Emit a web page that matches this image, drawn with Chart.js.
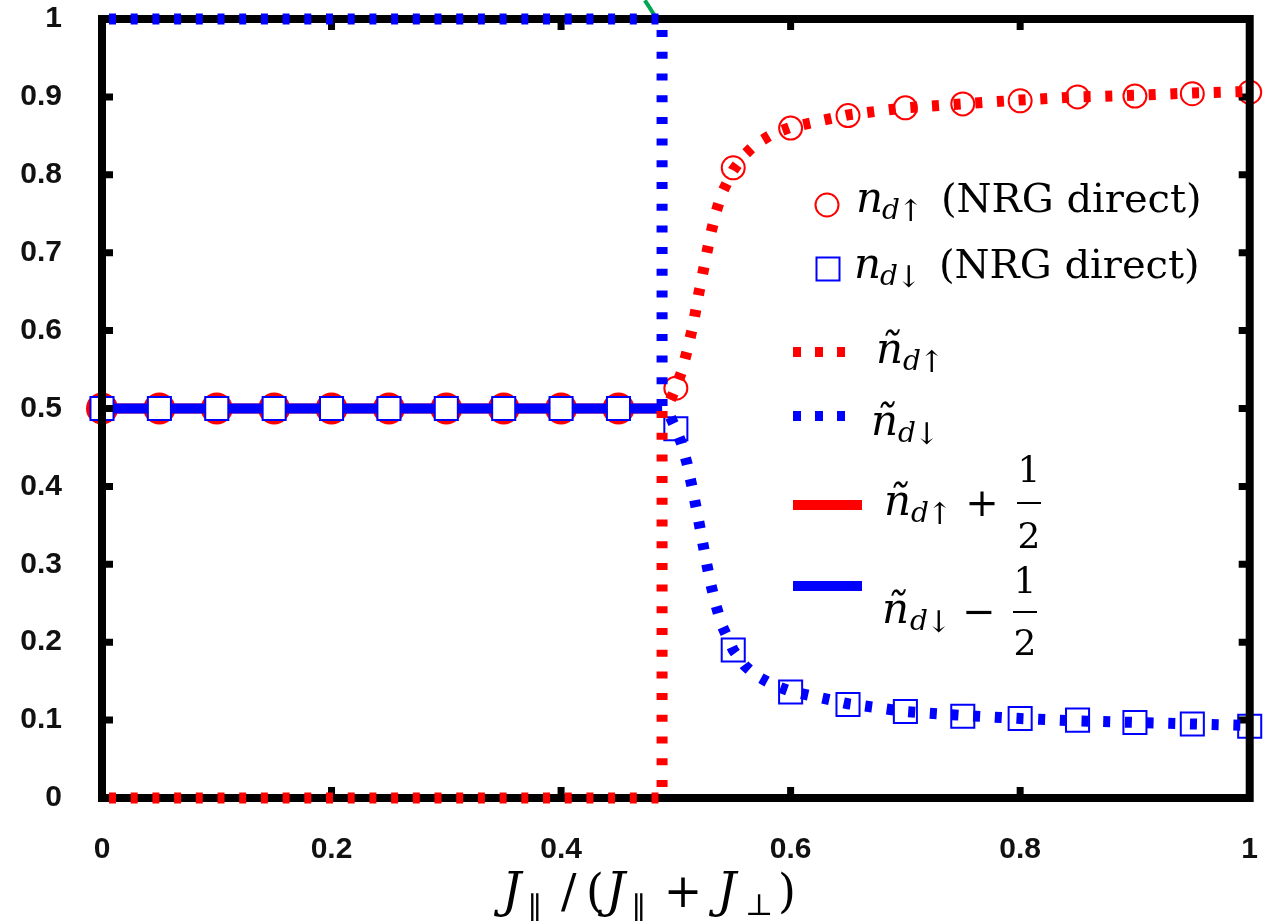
<!DOCTYPE html>
<html>
<head>
<meta charset="utf-8">
<script src="https://cdn.jsdelivr.net/npm/chart.js@4.4.1/dist/chart.umd.min.js"></script>
<style>
  html, body { margin: 0; padding: 0; background: #fff; overflow: hidden; }
  #wrap { width: 1263px; height: 924px; overflow: hidden; }
</style>
</head>
<body>
<!-- canvas is a few px wider than the window: Chart.js keeps ~18px on the right -->
<div id="wrap"><canvas id="chart" width="1268" height="924"></canvas></div>
<script>
// NRG direct points
const nrgX = [0, 0.05, 0.1, 0.15, 0.2, 0.25, 0.3, 0.35, 0.4, 0.45, 0.5, 0.55, 0.6, 0.65, 0.7, 0.75, 0.8, 0.85, 0.9, 0.95, 1];
const nUp = [0.5, 0.5, 0.5, 0.5, 0.5, 0.5, 0.5, 0.5, 0.5, 0.5, 0.526, 0.809, 0.86, 0.876, 0.886, 0.891, 0.895, 0.9, 0.901, 0.904, 0.906];
const nDown = [0.5, 0.5, 0.5, 0.5, 0.5, 0.5, 0.5, 0.5, 0.5, 0.5, 0.474, 0.19, 0.136, 0.12, 0.111, 0.105, 0.102, 0.1, 0.097, 0.095, 0.092];

// tilde n curves (dotted)
const tildeX = [0, 0.488, 0.488, 0.495, 0.5, 0.505, 0.51, 0.515, 0.52, 0.525, 0.53, 0.535, 0.54, 0.55, 0.56, 0.57, 0.585, 0.6, 0.65, 0.7, 0.75, 0.8, 0.85, 0.9, 0.95, 1];
const tildeUp = [0, 0, 0.5, 0.51, 0.527, 0.547, 0.575, 0.607, 0.648, 0.685, 0.722, 0.752, 0.776, 0.806, 0.826, 0.84, 0.853, 0.861, 0.877, 0.886, 0.891, 0.896, 0.9, 0.902, 0.905, 0.907];
const tildeDown = [1, 1, 0.5, 0.49, 0.474, 0.455, 0.428, 0.393, 0.355, 0.315, 0.277, 0.247, 0.222, 0.19, 0.17, 0.157, 0.145, 0.137, 0.121, 0.111, 0.106, 0.102, 0.099, 0.097, 0.095, 0.093];

// tilde n +/- 1/2 (solid)
const halfX = [0, 0.488];
const halfUp = [0.5, 0.5];
const halfDown = [0.5, 0.5];

// stray green arrow tip at the top edge
const arrowX = [0.473, 0.4835];
const arrowY = [1.024, 1.0];

const xTickLabels = ['0', '0.2', '0.4', '0.6', '0.8', '1'];
const yTickLabels = ['0', '0.1', '0.2', '0.3', '0.4', '0.5', '0.6', '0.7', '0.8', '0.9', '1'];

const RED = '#ff0000';
const BLUE = '#0000ff';

function pts(xs, ys) {
    return xs.map((x, i) => ({ x: x, y: ys[i] }));
}

const isLeft = c => c.raw && c.raw.x < 0.49;

const serif = '"DejaVu Serif", "DejaVu Sans", serif';
function put(ctx, s, x, y, size, style, align) {
    ctx.font = (style || 'normal') + ' ' + size + 'px ' + serif;
    ctx.textAlign = align || 'left';
    ctx.textBaseline = 'alphabetic';
    ctx.fillStyle = '#000';
    ctx.fillText(s, x, y);
}

// frame + inward ticks, drawn between the marker layers and the dotted lines
const framePlugin = {
    id: 'frame',
    afterDatasetDraw(chart, args) {
        if (args.index !== 2) return;
        const ctx = chart.ctx;
        const a = chart.chartArea;
        const xs = chart.scales.x, ys = chart.scales.y;
        ctx.save();
        ctx.strokeStyle = '#000';
        ctx.lineWidth = 8;
        ctx.lineJoin = 'miter';
        ctx.strokeRect(a.left, a.top, a.right - a.left, a.bottom - a.top);
        ctx.lineWidth = 7;
        ctx.beginPath();
        ys.ticks.forEach(t => {
            if (t.value <= 0 || t.value >= 1) return;
            const py = ys.getPixelForValue(t.value);
            ctx.moveTo(a.left, py); ctx.lineTo(a.left + 11, py);
            ctx.moveTo(a.right, py); ctx.lineTo(a.right - 11, py);
        });
        xs.ticks.forEach(t => {
            if (t.value <= 0 || t.value >= 1) return;
            const px = xs.getPixelForValue(t.value);
            ctx.moveTo(px, a.bottom); ctx.lineTo(px, a.bottom - 11);
            ctx.moveTo(px, a.top); ctx.lineTo(px, a.top + 11);
        });
        ctx.stroke();
        ctx.restore();
    }
};

// legend and axis title with sub/superscripts
const textPlugin = {
    id: 'mathText',
    afterDraw(chart) {
        const ctx = chart.ctx;
        ctx.save();

        // line 1: red circle
        ctx.lineWidth = 2;
        ctx.strokeStyle = RED;
        ctx.beginPath();
        ctx.arc(827, 205, 11.5, 0, Math.PI * 2);
        ctx.stroke();
        put(ctx, 'n', 856, 212, 42, 'italic');
        put(ctx, 'd', 882, 219, 28, 'italic');
        put(ctx, '\u2191', 898, 221, 30);
        put(ctx, '(NRG direct)', 941, 212, 40);

        // line 2: blue square
        ctx.strokeStyle = BLUE;
        ctx.strokeRect(816.5, 257.5, 23, 23);
        put(ctx, 'n', 854, 278, 42, 'italic');
        put(ctx, 'd', 880, 285, 28, 'italic');
        put(ctx, '\u2193', 896, 287, 30);
        put(ctx, '(NRG direct)', 939, 278, 40);

        // lines 3, 4: dotted
        ctx.lineWidth = 10;
        ctx.setLineDash([8, 14]);
        ctx.strokeStyle = RED;
        ctx.beginPath(); ctx.moveTo(793, 352); ctx.lineTo(847, 352); ctx.stroke();
        ctx.strokeStyle = BLUE;
        ctx.beginPath(); ctx.moveTo(793, 416); ctx.lineTo(847, 416); ctx.stroke();
        ctx.setLineDash([]);
        put(ctx, '\u00f1', 876, 363, 42, 'italic');
        put(ctx, 'd', 903, 370, 28, 'italic');
        put(ctx, '\u2191', 919, 372, 30);
        put(ctx, '\u00f1', 871, 435, 42, 'italic');
        put(ctx, 'd', 898, 442, 28, 'italic');
        put(ctx, '\u2193', 914, 444, 30);

        // lines 5, 6: solid
        ctx.lineWidth = 10;
        ctx.strokeStyle = RED;
        ctx.beginPath(); ctx.moveTo(793, 505); ctx.lineTo(862, 505); ctx.stroke();
        ctx.strokeStyle = BLUE;
        ctx.beginPath(); ctx.moveTo(793, 586); ctx.lineTo(862, 586); ctx.stroke();

        put(ctx, '\u00f1', 884, 515, 42, 'italic');
        put(ctx, 'd', 911, 522, 28, 'italic');
        put(ctx, '\u2191', 927, 524, 30);
        put(ctx, '+', 982, 516, 40, 'normal', 'center');
        put(ctx, '1', 1029, 482, 36, 'normal', 'center');
        put(ctx, '2', 1029, 548, 36, 'normal', 'center');
        ctx.lineWidth = 2;
        ctx.strokeStyle = '#000';
        ctx.beginPath(); ctx.moveTo(1017, 503); ctx.lineTo(1041, 503); ctx.stroke();

        put(ctx, '\u00f1', 882, 623, 42, 'italic');
        put(ctx, 'd', 910, 630, 28, 'italic');
        put(ctx, '\u2193', 926, 632, 30);
        put(ctx, '\u2212', 979, 625, 40, 'normal', 'center');
        put(ctx, '1', 1025, 593, 36, 'normal', 'center');
        put(ctx, '2', 1025, 655, 36, 'normal', 'center');
        ctx.beginPath(); ctx.moveTo(1013, 612); ctx.lineTo(1037, 612); ctx.stroke();

        // x axis title: J_par / (J_par + J_perp)
        put(ctx, 'J', 502, 907, 48, 'italic');
        put(ctx, '\u2225', 528, 918, 30);
        put(ctx, '/', 561, 907, 46);
        put(ctx, '(', 586, 907, 46);
        put(ctx, 'J', 606, 907, 48, 'italic');
        put(ctx, '\u2225', 632, 918, 30);
        put(ctx, '+', 683, 907, 46, 'normal', 'center');
        put(ctx, 'J', 717, 907, 48, 'italic');
        put(ctx, '\u22a5', 745, 915, 30);
        put(ctx, ')', 778, 907, 46);

        ctx.restore();
    }
};

const tickFont = { family: '"Liberation Sans", Arial, sans-serif', weight: 'bold', size: 30, lineHeight: 1.2 };

function noPad(scale) {
    scale.paddingTop = 0;
    scale.paddingBottom = 0;
    scale.paddingLeft = 0;
    scale.paddingRight = 0;
}

new Chart(document.getElementById('chart').getContext('2d'), {
    type: 'scatter',
    data: {
        datasets: [
            {   // 0: tilde n down, dotted blue
                data: pts(tildeX, tildeDown),
                showLine: true,
                borderColor: BLUE,
                borderWidth: 11,
                borderDash: [7, 14.7],
                borderDashOffset: 14.7,
                borderCapStyle: 'butt',
                tension: 0,
                pointRadius: 0,
                clip: false
            },
            {   // 1: tilde n up, dotted red
                data: pts(tildeX, tildeUp),
                showLine: true,
                borderColor: RED,
                borderWidth: 11,
                borderDash: [7, 14.7],
                borderDashOffset: 14.7,
                borderCapStyle: 'butt',
                tension: 0,
                pointRadius: 0,
                clip: false
            },
            {   // 2: NRG direct n down, squares
                data: pts(nrgX, nDown),
                showLine: false,
                pointStyle: 'rect',
                pointRadius: 16.3,
                pointBorderWidth: 2,
                pointBorderColor: BLUE,
                pointBackgroundColor: '#ffffff',
                clip: false
            },
            {   // 3: tilde n down - 1/2, solid blue
                data: pts(halfX, halfDown),
                showLine: true,
                borderColor: BLUE,
                borderWidth: 10,
                pointRadius: 0,
                clip: false
            },
            {   // 4: tilde n up + 1/2, solid red
                data: pts(halfX, halfUp),
                showLine: true,
                borderColor: RED,
                borderWidth: 10,
                pointRadius: 0,
                clip: false
            },
            {   // 5: NRG direct n up, circles
                data: pts(nrgX, nUp),
                showLine: false,
                pointStyle: 'circle',
                pointRadius: c => isLeft(c) ? 15 : 11.5,
                pointBorderWidth: 2,
                pointBorderColor: RED,
                pointBackgroundColor: c => isLeft(c) ? RED : 'rgba(0,0,0,0)',
                clip: false
            },
            {   // 6: green arrow tip
                data: pts(arrowX, arrowY),
                showLine: true,
                borderColor: '#00a651',
                borderWidth: 4,
                pointRadius: 0,
                clip: false
            }
        ]
    },
    options: {
        responsive: false,
        animation: false,
        events: [],
        layout: { padding: { top: 19, right: 8, left: 0, bottom: 0 } },
        plugins: {
            legend: { display: false },
            tooltip: { enabled: false }
        },
        scales: {
            x: {
                type: 'linear',
                min: 0,
                max: 1,
                grid: { display: false, drawTicks: false },
                border: { display: false },
                ticks: {
                    stepSize: 0.2,
                    autoSkip: false,
                    maxRotation: 0,
                    padding: 34,
                    color: '#111',
                    font: tickFont,
                    callback: (v, i) => xTickLabels[i]
                },
                afterFit(scale) { scale.height = 126; noPad(scale); }
            },
            y: {
                type: 'linear',
                min: 0,
                max: 1,
                grid: { display: false, drawTicks: false },
                border: { display: false },
                ticks: {
                    stepSize: 0.1,
                    autoSkip: false,
                    padding: 40,
                    color: '#111',
                    font: tickFont,
                    callback: (v, i) => yTickLabels[i]
                },
                afterFit(scale) { scale.width = 102; noPad(scale); }
            }
        }
    },
    plugins: [framePlugin, textPlugin]
});
</script>
</body>
</html>
